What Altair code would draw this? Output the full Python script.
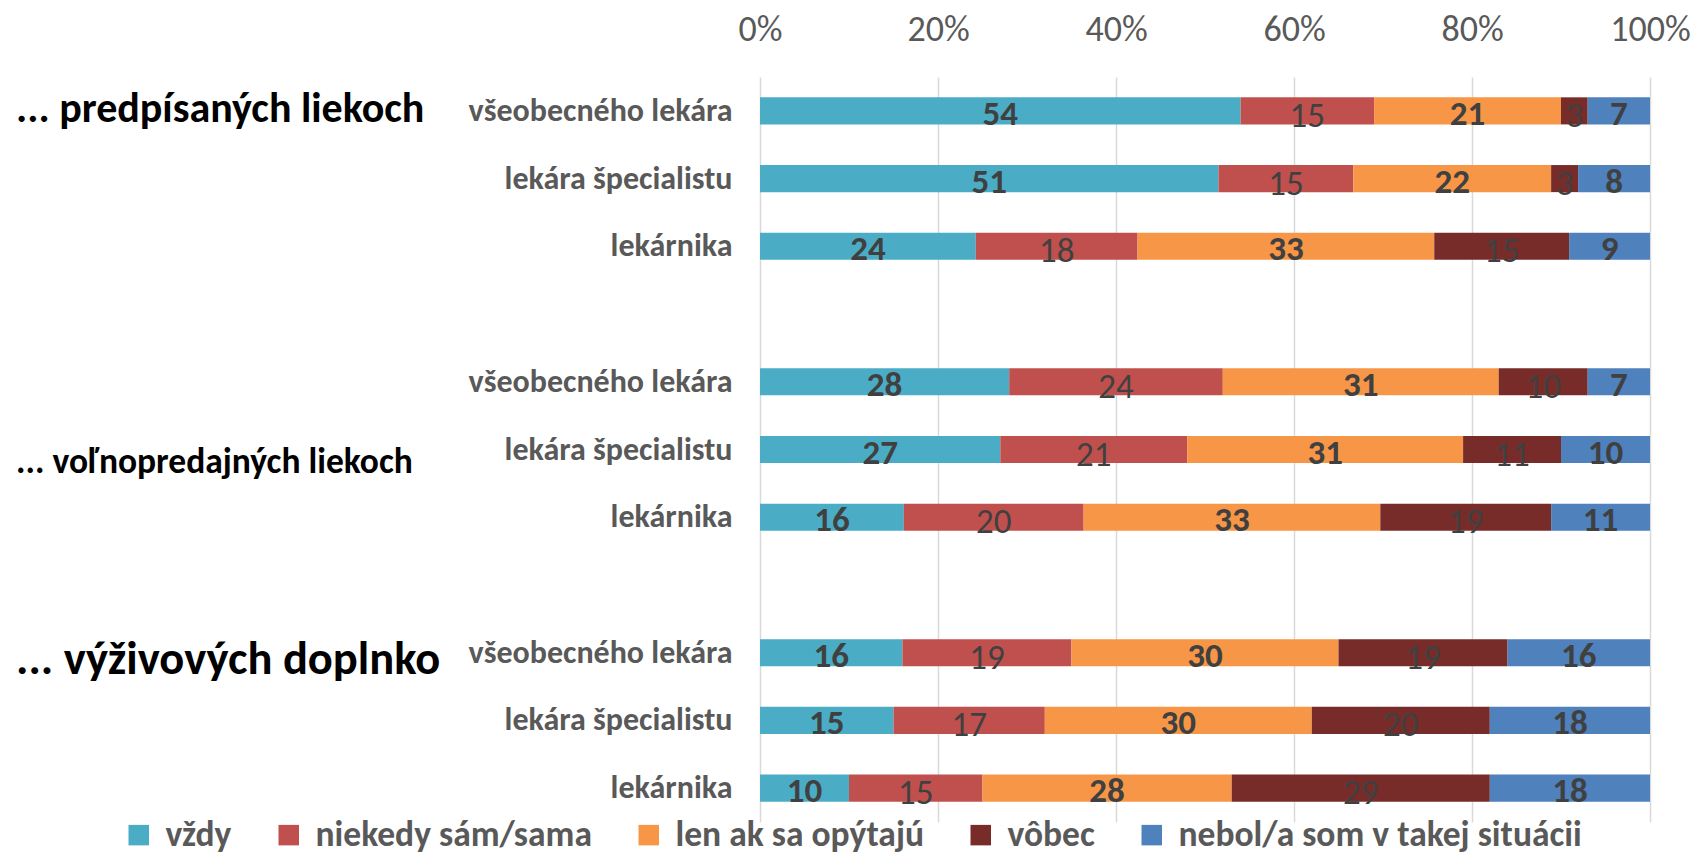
import altair as alt
import pandas as pd

FONT = "Carlito, Lato, 'Open Sans', sans-serif"

series = ["vždy", "niekedy sám/sama", "len ak sa opýtajú", "vôbec", "nebol/a som v takej situácii"]
colors = ["#4BACC6", "#C0504D", "#F79646", "#772C2A", "#4F81BD"]
bold_series = ["vždy", "len ak sa opýtajú", "nebol/a som v takej situácii"]

row_names = ["všeobecného lekára", "lekára špecialistu", "lekárnika"]
groups = ["... predpísaných liekoch", "... voľnopredajných liekoch", "... výživových doplnko"]

g1_vseob = [54, 15, 21, 3, 7]
g1_spec = [51, 15, 22, 3, 8]
g1_lekarnik = [24, 18, 33, 15, 9]
g2_vseob = [28, 24, 31, 10, 7]
g2_spec = [27, 21, 31, 11, 10]
g2_lekarnik = [16, 20, 33, 19, 11]
g3_vseob = [16, 19, 30, 19, 16]
g3_spec = [15, 17, 30, 20, 18]
g3_lekarnik = [10, 15, 28, 29, 18]

ticks = [0, 0.2, 0.4, 0.6, 0.8, 1.0]

group_rows = [
    [g1_vseob, g1_spec, g1_lekarnik],
    [g2_vseob, g2_spec, g2_lekarnik],
    [g3_vseob, g3_spec, g3_lekarnik],
]

slots = []
records = []
for gi, rows in enumerate(group_rows):
    for ri, vals in enumerate(rows):
        key = f"{gi}{ri}|{row_names[ri]}"
        slots.append(key)
        for si, v in enumerate(vals):
            records.append({"slot": key, "series": series[si], "order": si, "value": v})
    if gi < 2:
        slots.append(f"gap{gi}|")
df = pd.DataFrame(records)

W, H = 890, 745
PAD_LEFT = 752

yscale = alt.Scale(domain=slots, paddingInner=0.6, paddingOuter=0.3)
yaxis = alt.Axis(title=None, domain=False, ticks=False, labelFont=FONT,
                 labelFontSize=32, labelFontWeight="bold", labelColor="#595959",
                 labelPadding=28, labelLimit=500, labelExpr="split(datum.label, '|')[1]")


def yenc():
    return alt.Y("slot:N", scale=yscale, sort=slots, axis=yaxis)


base = alt.Chart(df).transform_stack(
    stack="value", groupby=["slot"], as_=["x0", "x1"], offset="normalize",
    sort=[alt.SortField("order")]
).transform_calculate(mid="(datum.x0 + datum.x1) / 2")

xaxis = alt.Axis(orient="top", values=ticks, format="%", title=None,
                 grid=True, gridColor="#D9D9D9", gridWidth=1.5, labelFlush=False,
                 domain=False, ticks=False, labelFont=FONT, labelFontSize=36,
                 labelColor="#595959", labelPadding=29)
xscale = alt.Scale(domain=[0, 1], nice=False)

bars = base.mark_bar().encode(
    x=alt.X("x0:Q", scale=xscale, axis=xaxis),
    x2="x1:Q",
    y=yenc(),
    color=alt.Color("series:N", scale=alt.Scale(domain=series, range=colors),
                    legend=alt.Legend(title=None, orient="none", legendX=-639, legendY=740,
                                      direction="horizontal", symbolType="square",
                                      symbolSize=420, symbolStrokeWidth=0,
                                      labelFont=FONT, labelFontSize=35.5, labelFontWeight="bold",
                                      labelColor="#595959", labelOffset=9, columnPadding=39,
                                      labelLimit=600)),
    order=alt.Order("order:Q"),
)

txt_bold = base.transform_filter(
    alt.FieldOneOfPredicate(field="series", oneOf=bold_series)
).mark_text(font=FONT, fontSize=35, fontWeight="bold", color="#404040", dy=3).encode(
    x=alt.X("mid:Q", scale=xscale, axis=xaxis), y=yenc(), text="value:Q"
)
txt_norm = base.transform_filter(
    ~alt.FieldOneOfPredicate(field="series", oneOf=bold_series)
).mark_text(font=FONT, fontSize=35, fontWeight="normal", color="#404040", dy=5).encode(
    x=alt.X("mid:Q", scale=xscale, axis=xaxis), y=yenc(), text="value:Q"
)

gl_slot = [slots[0], slots[5], slots[8]]
gl_size = [42, 35.5, 46.5]
gl_dy = [-2, 12, 7]
glayers = []
for i in range(3):
    gdf = pd.DataFrame({"slot": [gl_slot[i]], "label": [groups[i]]})
    glayers.append(
        alt.Chart(gdf).mark_text(font=FONT, fontSize=gl_size[i], fontWeight="bold",
                                 color="#000000", align="left", baseline="middle", dy=gl_dy[i]).encode(
            x=alt.value(16 - 8 - PAD_LEFT), y=yenc(), text="label:N"
        )
    )

chart = alt.layer(bars, txt_bold, txt_norm, *glayers).properties(
    width=W, height=H,
    autosize=alt.AutoSizeParams(type="none"),
    padding={"left": PAD_LEFT, "top": 69, "right": 1684 - PAD_LEFT - W, "bottom": 36},
).configure_view(stroke=None)

chart.save("out.html", embed_options={"renderer": "svg", "actions": False})
